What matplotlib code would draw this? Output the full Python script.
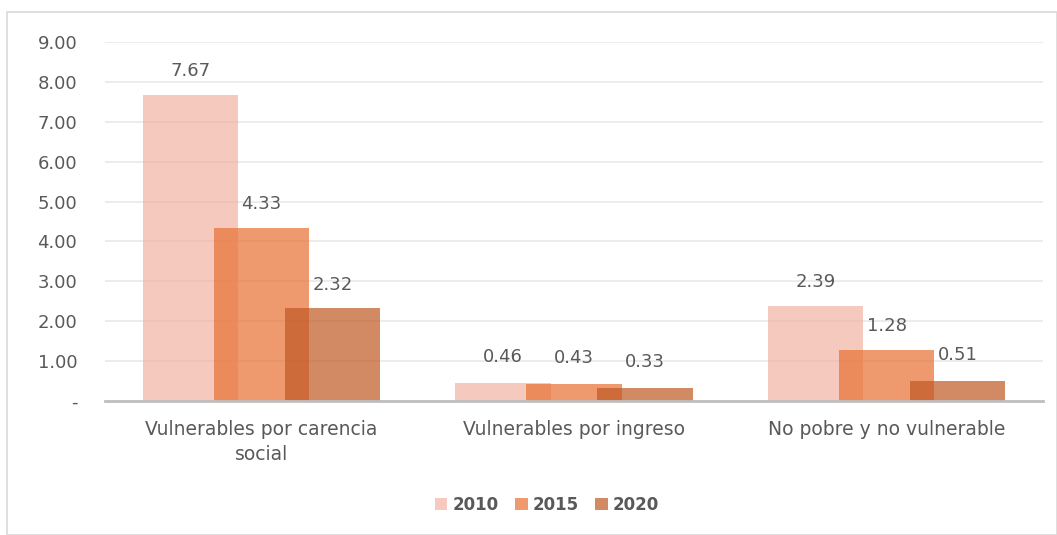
"""Grouped, overlapping bar chart: population groups by year (2010, 2015, 2020)."""

import matplotlib

matplotlib.use("Agg")
import matplotlib.pyplot as plt  # noqa: E402
import numpy as np  # noqa: E402
from matplotlib.patches import Rectangle  # noqa: E402
from matplotlib.ticker import FuncFormatter  # noqa: E402

categories = ["Vulnerables por carencia\nsocial", "Vulnerables por ingreso", "No pobre y no vulnerable"]
years = ["2010", "2015", "2020"]
values_2010 = [7.67, 0.46, 2.39]
values_2015 = [4.33, 0.43, 1.28]
values_2020 = [2.32, 0.33, 0.51]
series = [values_2010, values_2015, values_2020]
colors = ["#F1B2A1", "#E77030", "#C05824"]

TEXT = "#595959"
plt.rcParams["font.family"] = ["DejaVu Sans"]

fig = plt.figure(figsize=(10.57, 5.35), dpi=100, facecolor="white")
# chart frame
fig.patches.append(Rectangle((7 / 1057, 0), 1 - 7 / 1057, 1 - 12 / 535, transform=fig.transFigure,
                             facecolor="white", edgecolor="#D9D9D9", linewidth=1.2, zorder=-1))

ax = fig.add_axes([105 / 1057, 1 - 401 / 535, 938 / 1057, 359 / 535])
ax.set_facecolor("none")

x = np.arange(len(categories))
width = 0.304
step = 0.227
for k, (vals, col, yr) in enumerate(zip(series, colors, years)):
    pos = x + (k - 1) * step
    ax.bar(pos, vals, width=width, color=col, alpha=0.7, label=yr, zorder=2 + k, linewidth=0)
    for p, v in zip(pos, vals):
        ax.text(p, v + 0.6 + 0.05 * (v < 1), f"{v:.2f}", ha="center", va="center",
                color=TEXT, fontsize=13, zorder=10)

ax.set_xlim(-0.5, 2.5)
ax.set_ylim(0, 9.0)
ax.set_yticks(np.arange(0, 10, 1))
ax.yaxis.set_major_formatter(FuncFormatter(lambda v, _: "-" if v == 0 else f"{v:.2f}"))
ax.grid(axis="y", color="#EBEBEB", linewidth=1.3, zorder=0)
ax.set_axisbelow(True)
for s in ["top", "right", "left"]:
    ax.spines[s].set_visible(False)
ax.spines["bottom"].set_color("#BFBFBF")
ax.spines["bottom"].set_linewidth(2)
ax.spines["bottom"].set_zorder(20)
ax.tick_params(axis="y", length=0, pad=20, labelsize=13, labelcolor=TEXT)
ax.tick_params(axis="x", length=0, pad=14, labelsize=13.5, labelcolor=TEXT)
ax.set_xticks(x)
ax.set_xticklabels(categories, linespacing=1.4)
for t in ax.get_yticklabels():
    t.set_clip_on(False)

leg = fig.legend(loc="center", bbox_to_anchor=(547 / 1057, 1 - 505 / 535), ncol=3, frameon=False,
                 handlelength=0.75, handleheight=0.75, handletextpad=0.3, columnspacing=1.0,
                 prop={"weight": "bold", "size": 12})
for t in leg.get_texts():
    t.set_color(TEXT)

fig.savefig("out.png", dpi=100, facecolor="white")
